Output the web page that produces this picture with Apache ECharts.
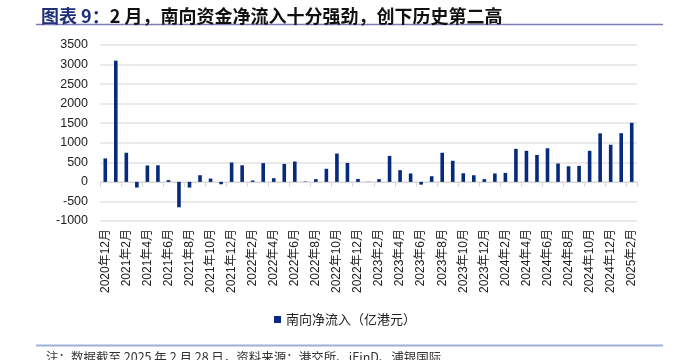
<!DOCTYPE html>
<html>
<head>
<meta charset="utf-8">
<script src="https://cdn.jsdelivr.net/npm/echarts@6/dist/echarts.min.js"></script>
<style>html,body{margin:0;padding:0;background:#fff;}#c{width:690px;height:360px;}</style>
</head>
<body>
<div id="c"></div>
<script>
var categories = [
  '2020年12月','2021年1月','2021年2月','2021年3月','2021年4月','2021年5月','2021年6月','2021年7月','2021年8月','2021年9月','2021年10月','2021年11月','2021年12月',
  '2022年1月','2022年2月','2022年3月','2022年4月','2022年5月','2022年6月','2022年7月','2022年8月','2022年9月','2022年10月','2022年11月','2022年12月',
  '2023年1月','2023年2月','2023年3月','2023年4月','2023年5月','2023年6月','2023年7月','2023年8月','2023年9月','2023年10月','2023年11月','2023年12月',
  '2024年1月','2024年2月','2024年3月','2024年4月','2024年5月','2024年6月','2024年7月','2024年8月','2024年9月','2024年10月','2024年11月','2024年12月',
  '2025年1月','2025年2月'
];
var southboundFlow = [
  600, 3100, 745, -145, 420, 425, 45, -650, -145, 170, 85, -60, 495,
  425, 35, 480, 95, 460, 520, 10, 70, 335, 725, 485, 75,
  5, 70, 665, 300, 215, -70, 145, 745, 540, 220, 170, 70,
  215, 230, 845, 795, 690, 860, 470, 400, 410, 795, 1240, 950,
  1245, 1510
];
var seriesName = '南向净流入（亿港元）';
var yMin = -1000, yMax = 3500, yStep = 500;

var chart = echarts.init(document.getElementById('c'), null, {renderer: 'canvas'});
var cjk = '"Noto Sans CJK SC", "Liberation Sans", sans-serif';
var latin = '"Liberation Sans", Arial, "Noto Sans CJK SC", sans-serif';
chart.setOption({
  animation: false,
  backgroundColor: '#ffffff',
  title: {
    text: '{a|图表 9：}{b|2 月，南向资金净流入十分强劲，创下历史第二高}',
    left: 36, top: 2,
    textStyle: {
      rich: {
        a: {fontFamily: cjk, fontSize: 18, fontWeight: 'bold', color: '#1f2f7a'},
        b: {fontFamily: cjk, fontSize: 18, fontWeight: 'bold', color: '#111111'}
      }
    }
  },
  graphic: [
    {type: 'line', shape: {x1: 36, y1: 24.5, x2: 663, y2: 24.5}, style: {stroke: '#7d7db8', lineWidth: 1.5}},
    {type: 'line', shape: {x1: 36, y1: 345.5, x2: 663, y2: 345.5}, style: {stroke: '#9db0d6', lineWidth: 2}},
    {type: 'text', left: 46, top: 351, style: {text: '注：数据截至 2025 年 2 月 28 日，资料来源：港交所、iFinD、浦银国际', font: '12.5px ' + cjk, fill: '#333333'}}
  ],
  legend: {
    data: [seriesName],
    left: 'center', top: 308,
    icon: 'rect', itemWidth: 7, itemHeight: 7, itemGap: 4,
    textStyle: {fontFamily: cjk, fontSize: 13, color: '#222222'}
  },
  grid: {left: 100, right: 53, top: 45, bottom: 139, containLabel: false},
  xAxis: [
    {
      type: 'category', data: categories, position: 'bottom',
      axisLine: {show: false, onZero: false},
      axisTick: {show: false},
      axisLabel: {interval: 1, rotate: 90, margin: 8, fontFamily: latin, fontSize: 12, color: '#222222'}
    },
    {
      type: 'category', data: categories, position: 'bottom',
      axisLine: {show: true, onZero: true, onZeroAxisIndex: 0, lineStyle: {color: '#d9d9d9', width: 1}},
      axisTick: {show: true, interval: 1, length: 5, lineStyle: {color: '#d9d9d9'}},
      axisLabel: {show: false}
    }
  ],
  yAxis: {
    type: 'value', min: yMin, max: yMax, interval: yStep,
    axisLine: {show: false}, axisTick: {show: false},
    axisLabel: {margin: 12, fontFamily: latin, fontSize: 12.5, color: '#222222', formatter: function (v) { return String(v); }},
    splitLine: {lineStyle: {color: '#e3e3e3', width: 1.5}}
  },
  series: [{
    name: seriesName, type: 'bar', xAxisIndex: 0,
    data: southboundFlow, barWidth: 3.6,
    itemStyle: {color: '#062a7c'}
  }]
});
</script>
</body>
</html>
